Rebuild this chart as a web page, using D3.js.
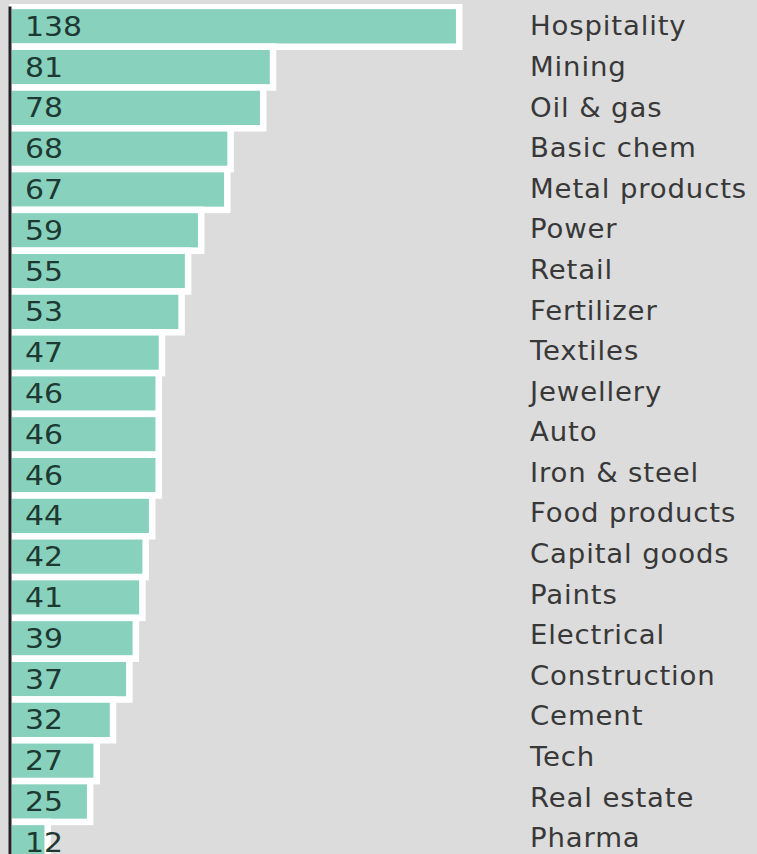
<!DOCTYPE html>
<html>
<head>
<meta charset="utf-8">
<script src="https://cdn.jsdelivr.net/npm/d3@7"></script>
<style>
  html, body { margin: 0; padding: 0; background: #dcdcdc; }
  svg { display: block; }
</style>
</head>
<body>
<script>
// Sector values, largest first
const categories = [
  "Hospitality", "Mining", "Oil & gas", "Basic chem", "Metal products",
  "Power", "Retail", "Fertilizer", "Textiles", "Jewellery", "Auto",
  "Iron & steel", "Food products", "Capital goods", "Paints", "Electrical",
  "Construction", "Cement", "Tech", "Real estate", "Pharma"
];
const values = [
  138, 81, 78, 68, 67, 59, 55, 53, 47, 46, 46,
  46, 44, 42, 41, 39, 37, 32, 27, 25, 12
];

const W = 757, H = 854;
const data = categories.map((c, i) => ({ name: c, value: values[i] }));

const svg = d3.select("body").append("svg")
  .attr("width", W).attr("height", H);

svg.append("rect").attr("width", W).attr("height", H).attr("fill", "#dcdcdc");

const x = d3.scaleLinear()
  .domain([0, d3.max(values)])
  .range([8.5, 459.2]);

// Bar rows
const y = d3.scaleBand()
  .domain(categories)
  .range([5.9, 5.9 + 40.8 * categories.length])
  .padding(0);

// Name column rows (slightly tighter spacing than the bars)
const yLabel = d3.scaleBand()
  .domain(categories)
  .range([5.7, 5.7 + 40.58 * categories.length])
  .padding(0);

svg.append("defs").append("clipPath").attr("id", "plot-clip")
  .append("rect").attr("x", 9).attr("y", 4).attr("width", W).attr("height", H);

// Bars with a thick white outline
svg.append("g").attr("clip-path", "url(#plot-clip)")
  .selectAll("rect").data(data).join("rect")
  .attr("x", x(0))
  .attr("y", d => y(d.name))
  .attr("width", d => x(d.value) - x(0))
  .attr("height", y.bandwidth())
  .attr("fill", "#88d2bd")
  .attr("stroke", "#ffffff")
  .attr("stroke-width", 6.5);

// Value labels at the start of each bar (wide digits)
svg.append("g").selectAll("text").data(data).join("text")
  .attr("transform", d => `translate(25,${y(d.name) + y.bandwidth() / 2 + 9.4}) scale(1.15,1)`)
  .attr("font-family", "DejaVu Sans, sans-serif")
  .attr("font-size", 26)
  .attr("fill", "#1e3832")
  .text(d => d.value);

// Sector names in a column on the right
svg.append("g").selectAll("text").data(data).join("text")
  .attr("transform", d => `translate(530,${yLabel(d.name) + yLabel.bandwidth() / 2 + 9.5}) scale(1.06,1)`)
  .attr("font-family", "DejaVu Sans, sans-serif")
  .attr("font-size", 26)
  .attr("letter-spacing", 0.8)
  .attr("fill", "#383838")
  .text(d => d.name);

// Left axis line
const axis = svg.append("g")
  .attr("transform", "translate(9.5,0)")
  .call(d3.axisLeft(y).tickSize(0).tickFormat(""));
axis.select(".domain").attr("stroke", "#222222").attr("stroke-width", 3);
axis.selectAll(".tick").remove();
</script>
</body>
</html>
